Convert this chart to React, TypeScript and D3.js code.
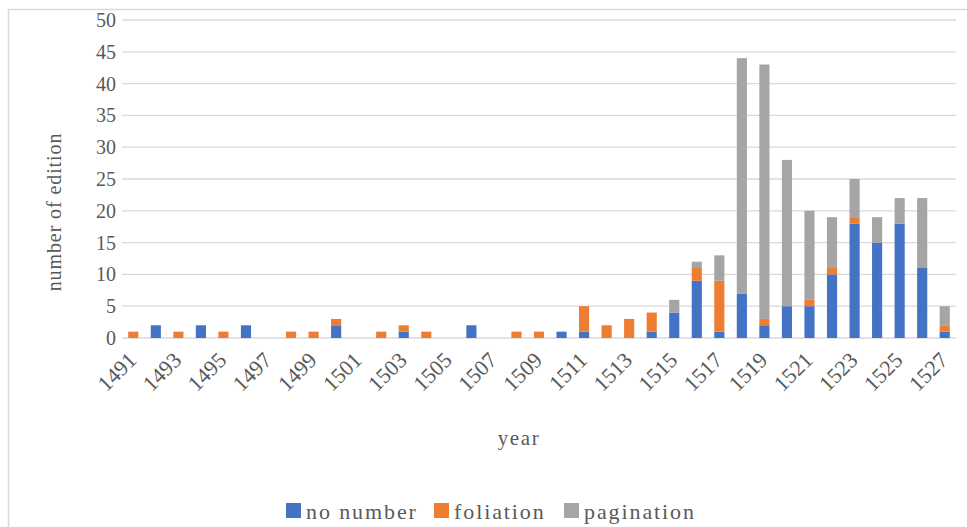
import React from "react";
import * as d3 from "d3";

const years = ["1491","1492","1493","1494","1495","1496","1497","1498","1499","1500","1501","1502","1503","1504","1505","1506","1507","1508","1509","1510","1511","1512","1513","1514","1515","1516","1517","1518","1519","1520","1521","1522","1523","1524","1525","1526","1527"];
const noNumber   = [0,2,0,2,0,2,0,0,0,2,0,0,1,0,0,2,0,0,0,1,1,0,0,1,4,9,1,7,2,5,5,10,18,15,18,11,1];
const foliation  = [1,0,1,0,1,0,0,1,1,1,0,1,1,1,0,0,0,1,1,0,4,2,3,3,0,2,8,0,1,0,1,1,1,0,0,0,1];
const pagination = [0,0,0,0,0,0,0,0,0,0,0,0,0,0,0,0,0,0,0,0,0,0,0,0,2,1,4,37,40,23,14,8,6,4,4,11,3];
const seriesNames = ["no number", "foliation", "pagination"];
const colors = ["#4472C4", "#ED7D31", "#A5A5A5"];
const yTicks = [0,5,10,15,20,25,30,35,40,45,50];
const tickLabelYears = years.filter((_, i) => i % 2 === 0);

const W = 967, H = 527;
const FONT = "Liberation Serif, Times New Roman, DejaVu Serif, serif";
const TXT = "#595959";
const ts = { fontFamily: FONT };

export default function App() {
  const x = d3.scaleBand<string>().domain(years).range([122, 956]).paddingInner(0.55).paddingOuter(0.275);
  const y = d3.scaleLinear().domain([0, 50]).range([338, 20]);
  const rows = years.map((yr, i) => ({ year: yr, "no number": noNumber[i], foliation: foliation[i], pagination: pagination[i] }));
  const stacked = d3.stack<any>().keys(seriesNames)(rows);
  const legendX = [286, 434, 564];

  return (
    <svg width={W} height={H} style={{ position: "absolute", left: 0, top: 0, fontFamily: FONT }}>
      <rect x={0} y={0} width={W} height={H} fill="#fff" />
      <path d={`M8.5,${H} V9.5 H${W}`} fill="none" stroke="#d9d9d9" strokeWidth={1.5} />
      {yTicks.map(t => (
        <g key={t}>
          <line x1={122} x2={956} y1={y(t)} y2={y(t)} stroke="#d9d9d9" strokeWidth={1.3} />
          <text x={116} y={y(t)} dy="0.35em" textAnchor="end" fontSize={20} fill={TXT} style={ts}>{t}</text>
        </g>
      ))}
      {stacked.map((s, si) => (
        <g key={si} fill={colors[si]}>
          {s.map((d, i) => d[1] - d[0] > 0 ? (
            <rect key={i} x={x(years[i])} width={x.bandwidth()} y={y(d[1])} height={y(d[0]) - y(d[1])} />
          ) : null)}
        </g>
      ))}
      {tickLabelYears.map(yr => {
        const cx = (x(yr) as number) + x.bandwidth() / 2;
        return (
          <text key={yr} transform={`translate(${cx - 1},${356}) rotate(-45)`} textAnchor="end" dy="0.35em" fontSize={22} fill={TXT} style={ts}>{yr}</text>
        );
      })}
      <text transform={`translate(61,212) rotate(-90)`} textAnchor="middle" fontSize={20} fill={TXT} letterSpacing={0.9} style={ts}>number of edition</text>
      <text x={519} y={445} textAnchor="middle" fontSize={21} fill={TXT} letterSpacing={1.6} style={ts}>year</text>
      {seriesNames.map((n, i) => (
        <g key={n}>
          <rect x={legendX[i]} y={503} width={15} height={15} fill={colors[i]} />
          <text x={legendX[i] + 20} y={519} fontSize={22} fill={TXT} letterSpacing={1.9} style={ts}>{n}</text>
        </g>
      ))}
    </svg>
  );
}
